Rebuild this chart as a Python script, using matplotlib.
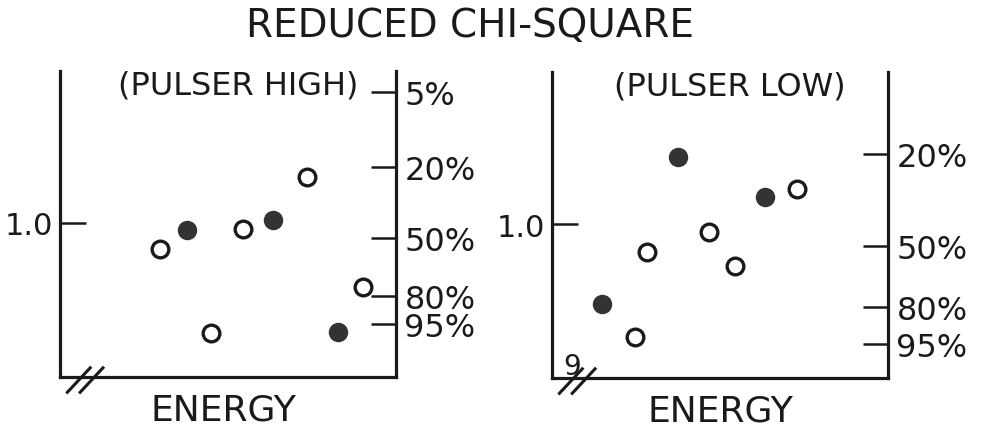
import numpy as np
import matplotlib
matplotlib.use("Agg")
import matplotlib.pyplot as plt

# reduced chi-square vs energy (energy in arbitrary units 0..10)
high_open_e = [2.98, 4.49, 5.45, 7.35, 9.02]
high_open_chi = [0.896, 0.560, 0.976, 1.184, 0.744]
high_filled_e = [3.78, 6.34, 8.27]
high_filled_chi = [0.972, 1.012, 0.564]

low_open_e = [2.47, 2.83, 4.67, 5.45, 7.29]
low_open_chi = [0.548, 0.888, 0.968, 0.832, 1.140]
low_filled_e = [1.49, 3.75, 6.34]
low_filled_chi = [0.680, 1.268, 1.108]

# confidence levels on the right-hand axis
high_pct_labels = ["5%", "20%", "50%", "80%", "95%"]
high_pct_chi = [1.524, 1.224, 0.940, 0.708, 0.596]
low_pct_labels = ["20%", "50%", "80%", "95%"]
low_pct_chi = [1.280, 0.912, 0.668, 0.520]

panel_titles = ["(PULSER HIGH)", "(PULSER LOW)"]

plt.rcParams['font.family'] = ['DejaVu Sans']
INK = "#1a1a1a"

fig = plt.figure(figsize=(9.83, 4.31), dpi=100)
ax_l = fig.add_axes([0.061, 0.123, 0.342, 0.710])
ax_r = fig.add_axes([0.5616, 0.1206, 0.3418, 0.7098])


def draw_panel(ax, open_e, open_chi, filled_e, filled_chi, pct_chi, pct_labels, title):
    ax.set_xlim(0, 10)
    ax.set_ylim(0.384, 1.608)
    ax.plot(open_e, open_chi, 'o', ms=12, mfc='white', mec=INK, mew=2.4)
    ax.plot(filled_e, filled_chi, 'o', ms=13, mfc='#333333', mec='#333333')

    for side in ['left', 'bottom', 'right']:
        ax.spines[side].set_linewidth(2.3)
        ax.spines[side].set_color(INK)
    ax.spines['top'].set_visible(False)

    ax.set_xticks([])
    ax.set_yticks([1.0])
    ax.set_yticklabels(["1.0"])
    ax.tick_params(axis='y', direction='in', length=19, width=1.8,
                   color=INK, labelsize=22, labelcolor=INK, pad=5)

    sec = ax.twinx()
    sec.set_ylim(ax.get_ylim())
    sec.set_yticks(pct_chi)
    sec.set_yticklabels(pct_labels)
    sec.tick_params(axis='y', direction='in', length=18, width=1.8,
                    color=INK, labelsize=23, labelcolor=INK, pad=6)
    for side in sec.spines:
        sec.spines[side].set_visible(False)

    ax.set_xlabel("ENERGY", fontsize=26, color=INK)
    ax.text(0.53, 0.955, title, transform=ax.transAxes, ha='center', va='center',
            fontsize=23, color=INK)

    # axis break marks
    for dx in (0.0, 0.038):
        ax.plot([0.022 + dx, 0.09 + dx], [-0.05, 0.03], transform=ax.transAxes,
                color=INK, lw=2.2, clip_on=False)


draw_panel(ax_l, high_open_e, high_open_chi, high_filled_e, high_filled_chi,
           high_pct_chi, high_pct_labels, panel_titles[0])
draw_panel(ax_r, low_open_e, low_open_chi, low_filled_e, low_filled_chi,
           low_pct_chi, low_pct_labels, panel_titles[1])
ax_l.xaxis.set_label_coords(0.485, -0.105)
ax_r.xaxis.set_label_coords(0.5, -0.105)
ax_l.xaxis.label.set_va('center')
ax_r.xaxis.label.set_va('center')

ax_r.text(0.06, 0.04, "9", transform=ax_r.transAxes, ha='center', va='center',
          fontsize=20, color=INK)

fig.suptitle("REDUCED CHI-SQUARE", fontsize=28, color=INK, x=0.478, y=0.94, va='center')

fig.savefig("out.png", dpi=100)
